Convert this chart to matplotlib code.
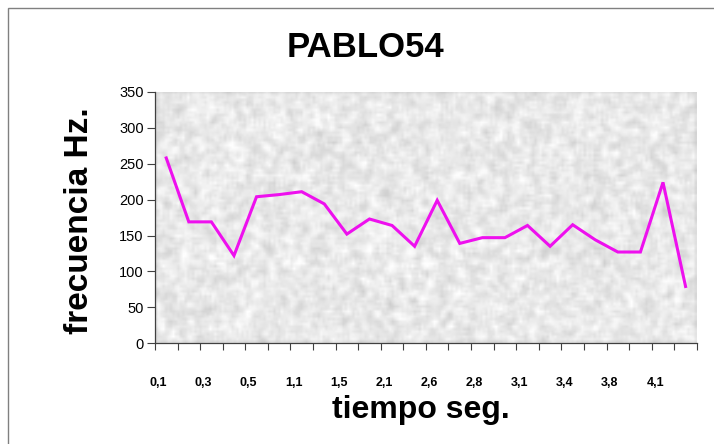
import numpy as np
import matplotlib.pyplot as plt
from matplotlib.patches import Rectangle

plt.rcParams["font.family"] = ["Liberation Sans", "DejaVu Sans"]

# pitch contour, one value per 24 time steps
frecuencia = [258, 169, 169, 122, 204, 207, 211, 194, 152, 173, 164, 135,
              199, 139, 147, 147, 164, 135, 165, 144, 127, 127, 224, 79]
tiempo_labels = ["0,1", "0,3", "0,5", "1,1", "1,5", "2,1",
                 "2,6", "2,8", "3,1", "3,4", "3,8", "4,1"]
y_ticks = [0, 50, 100, 150, 200, 250, 300, 350]

fig = plt.figure(figsize=(7.14, 4.44), dpi=100)
fig.patch.set_facecolor("white")
fig.add_artist(Rectangle((8 / 714, -0.05), 1.2, 1 - 8 / 444 + 0.05,
                         transform=fig.transFigure, fill=False,
                         edgecolor="#808080", linewidth=1.0))

ax = fig.add_axes([0.217, 0.227, 0.759, 0.566])

# mottled grey background texture (decorative only, fixed seed)
rng = np.random.default_rng(54)
noise = rng.random((100, 220))
k = np.ones(3) / 3
noise = np.apply_along_axis(lambda r: np.convolve(r, k, mode="same"), 1, noise)
noise = np.apply_along_axis(lambda c: np.convolve(c, k, mode="same"), 0, noise)
noise = (noise - noise.min()) / (noise.max() - noise.min())
tex = 0.79 + 0.24 * noise
ax.imshow(np.clip(tex, 0, 1), cmap="gray", vmin=0, vmax=1,
          extent=[0, 1, 0, 1], transform=ax.transAxes, aspect="auto",
          zorder=0, interpolation="bilinear")

n = len(frecuencia)
x = np.arange(n)
ax.plot(x, frecuencia, color="#EE10EE", linewidth=2.2, zorder=3,
        solid_joinstyle="miter")

ax.set_xlim(-0.5, n - 0.5)
ax.set_ylim(0, 350)

ax.set_yticks(y_ticks)
ax.set_yticklabels([str(v) for v in y_ticks], fontsize=10.5)
ax.tick_params(axis="y", direction="out", length=6, width=0.8,
               color="#404040", pad=2)

# category boundary ticks, labels on every other category
ax.set_xticks(np.arange(n + 1) - 0.5)
ax.set_xticklabels([])
ax.tick_params(axis="x", direction="out", length=5, width=0.8,
               color="#404040")
ax.set_xticks(np.arange(len(tiempo_labels)) * 2 - 0.35, minor=True)
ax.set_xticklabels(tiempo_labels, minor=True, fontsize=9,
                   fontweight="bold")
ax.tick_params(axis="x", which="minor", length=0, pad=24)

for s in ["top", "right"]:
    ax.spines[s].set_visible(False)
for s in ["left", "bottom"]:
    ax.spines[s].set_color("#404040")
    ax.spines[s].set_linewidth(0.9)

fig.text(0.512, 0.892, "PABLO54", fontsize=25, fontweight="bold",
         ha="center", va="center")
fig.text(0.112, 0.503, "frecuencia Hz.", fontsize=24, fontweight="bold",
         ha="center", va="center", rotation=90)
fig.text(0.59, 0.077, "tiempo seg.", fontsize=23, fontweight="bold",
         ha="center", va="center")

fig.savefig("out.png", dpi=100)
